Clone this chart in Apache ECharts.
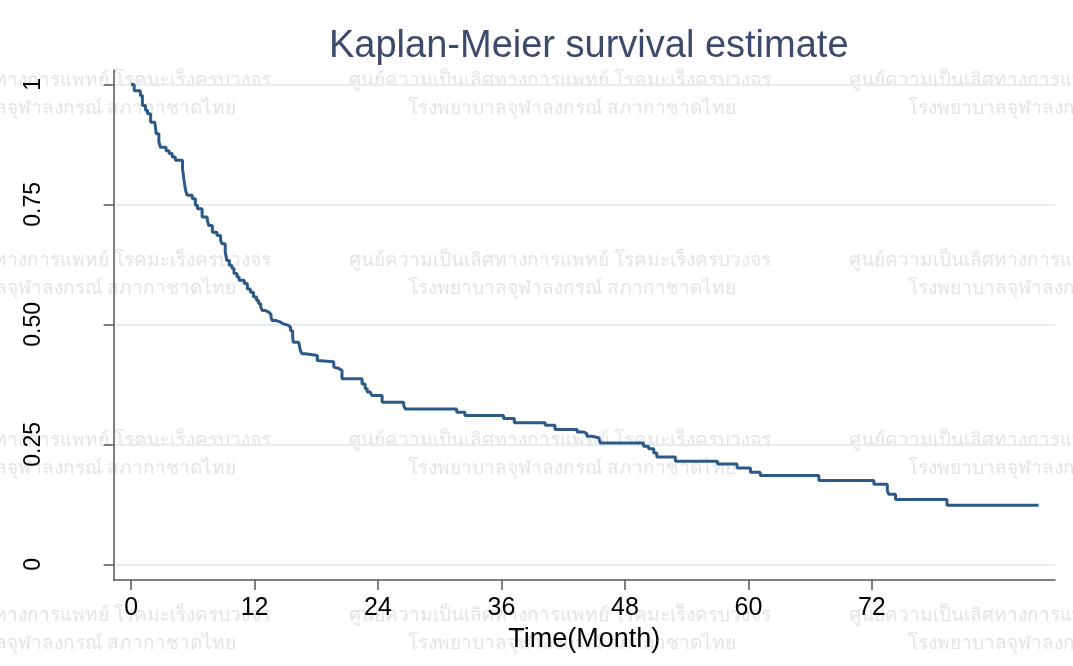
<!DOCTYPE html>
<html>
<head>
<meta charset="utf-8">
<script src="https://cdn.jsdelivr.net/npm/echarts@6/dist/echarts.min.js"></script>
<style>
  html, body { margin: 0; padding: 0; background: #fff; }
  #chart { width: 1073px; height: 666px; }
</style>
</head>
<body>
<div id="chart"></div>
<script>
// 生存时间（月）与对应的 KM 估计值，读自原图
const months = [
  0, 0.3, 0.9, 1.1, 1.4, 1.6, 1.9, 2.3, 2.45, 2.7, 2.85, 3.4, 3.7, 4.0, 4.3,
  5.0, 5.15, 5.3, 5.45, 5.95, 6.25, 6.45, 6.9, 7.4, 7.55, 7.9, 8.35, 8.7, 8.85,
  9.15, 9.3, 9.55, 9.8, 10.0, 10.3, 10.5, 11.0, 11.3, 11.6, 11.9, 12.2, 12.4,
  12.6, 12.75, 13.05, 13.4, 13.6, 13.7, 14.1, 14.5, 14.8, 15.3, 15.5, 15.7,
  15.75, 16.3, 16.45, 16.6, 16.95, 18.1, 18.2, 19.7, 19.85, 20.2, 20.5, 22.45,
  22.75, 22.95, 23.25, 23.4, 24.4, 26.5, 26.65, 31.65, 32.45, 36.2, 37.25,
  40.25, 41.2, 43.35, 44.0, 44.3, 44.8, 45.45, 45.6, 49.8, 50.3, 50.8, 51.1,
  52.9, 57.0, 58.9, 60.2, 61.15, 66.85, 72.2, 73.5, 73.65, 74.3, 79.3, 88.2
]
const survival = [
  1.0, 0.987, 0.977, 0.956, 0.946, 0.939, 0.921, 0.918, 0.897, 0.880, 0.869,
  0.862, 0.856, 0.849, 0.842, 0.824, 0.800, 0.779, 0.769, 0.762, 0.748, 0.741,
  0.724, 0.718, 0.706, 0.692, 0.685, 0.675, 0.668, 0.651, 0.633, 0.623, 0.617,
  0.606, 0.599, 0.592, 0.585, 0.574, 0.567, 0.557, 0.550, 0.543, 0.536, 0.529,
  0.525, 0.521, 0.515, 0.508, 0.505, 0.501, 0.498, 0.494, 0.487, 0.477, 0.463,
  0.460, 0.446, 0.439, 0.435, 0.425, 0.422, 0.411, 0.408, 0.404, 0.387, 0.376,
  0.366, 0.359, 0.356, 0.352, 0.338, 0.331, 0.324, 0.317, 0.310, 0.304, 0.295,
  0.290, 0.281, 0.276, 0.272, 0.267, 0.264, 0.260, 0.253, 0.246, 0.241, 0.232,
  0.224, 0.215, 0.209, 0.201, 0.192, 0.185, 0.175, 0.167, 0.154, 0.146, 0.135,
  0.123, 0.123
]
const xTicks = [0, 12, 24, 36, 48, 60, 72]
const yTicks = [0, 0.25, 0.5, 0.75, 1]
const yTickLabels = ['0', '0.25', '0.50', '0.75', '1']

// 水印文字
const watermarkLine1 = 'ศูนย์ความเป็นเลิศทางการแพทย์ โรคมะเร็งครบวงจร'
const watermarkLine2 = 'โรงพยาบาลจุฬาลงกรณ์ สภากาชาดไทย'

const font = '"Liberation Sans", Arial, sans-serif'

function buildWatermark() {
  const items = []
  const rows = [81, 261, 441, 616]
  const cols = [60, 560, 1060]
  const wmFont = '19px "Noto Sans", sans-serif'
  rows.forEach((y) => {
    cols.forEach((x) => {
      items.push({
        type: 'text',
        z: -1,
        silent: true,
        style: { text: watermarkLine1, x, y, align: 'center', verticalAlign: 'middle', fill: '#e4e4e4', font: wmFont },
      })
      items.push({
        type: 'text',
        z: -1,
        silent: true,
        style: { text: watermarkLine2, x: x + 12, y: y + 28, align: 'center', verticalAlign: 'middle', fill: '#e4e4e4', font: wmFont },
      })
    })
  })
  return items
}

const chart = echarts.init(document.getElementById('chart'))

chart.setOption({
  backgroundColor: '#ffffff',
  animation: false,
  title: {
    text: 'Kaplan-Meier survival estimate',
    left: 329,
    top: 28,
    padding: 0,
    textStyle: { fontFamily: font, fontSize: 38, fontWeight: 'normal', color: '#3e4a6c' },
  },
  graphic: buildWatermark(),
  grid: { left: 113.6, right: 18, top: 70, bottom: 86, containLabel: false },
  xAxis: {
    type: 'value',
    min: -1.7,
    max: 89.8,
    name: 'Time(Month)',
    nameLocation: 'middle',
    nameGap: 30,
    nameTextStyle: { fontFamily: font, fontSize: 27, color: '#000' },
    axisLine: { onZero: false, lineStyle: { color: '#555', width: 1.5 } },
    axisTick: { length: 10, customValues: xTicks, lineStyle: { color: '#555', width: 1.5 } },
    axisLabel: { customValues: xTicks, margin: 16, fontFamily: font, fontSize: 25, color: '#000' },
    splitLine: { show: false },
  },
  yAxis: {
    type: 'value',
    min: -0.0325,
    max: 1.03,
    axisLine: { show: true, onZero: false, lineStyle: { color: '#555', width: 1.5 } },
    axisTick: { show: true, length: 10, customValues: yTicks, lineStyle: { color: '#555', width: 1.5 } },
    axisLabel: {
      customValues: yTicks,
      rotate: 90,
      margin: 68,
      fontFamily: font,
      fontSize: 23,
      color: '#000',
      formatter: v => yTickLabels[yTicks.indexOf(Math.round(v * 100) / 100)] ?? '',
    },
    splitLine: { show: true, lineStyle: { color: '#e6eef3', width: 2 } },
  },
  series: [
    {
      type: 'line',
      step: 'end',
      symbol: 'none',
      data: months.map((m, i) => [m, survival[i]]),
      lineStyle: { color: '#2d5986', width: 3 },
    },
  ],
})
</script>
</body>
</html>
